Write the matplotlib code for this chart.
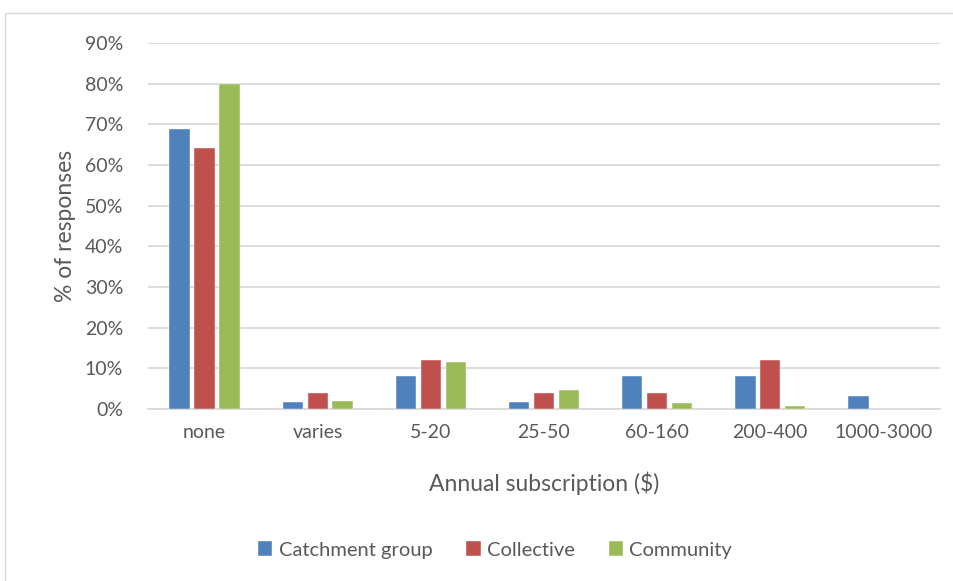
import numpy as np
import matplotlib.pyplot as plt
from matplotlib.patches import Rectangle

plt.rcParams['font.family'] = ['Lato', 'DejaVu Sans']

categories = ['none', 'varies', '5-20', '25-50', '60-160', '200-400', '1000-3000']
catchment = [68.9, 1.6, 8.2, 1.6, 8.2, 8.2, 3.3]
collective = [64.2, 3.9, 12.0, 3.9, 3.9, 12.0, 0]
community = [79.8, 2.0, 11.5, 4.7, 1.4, 0.7, 0]
series = ['Catchment group', 'Collective', 'Community']
colors = ['#4F81BD', '#C0504D', '#9BBB59']
text_col = '#595959'

fig = plt.figure(figsize=(9.54, 5.81), dpi=100)
ax = fig.add_axes([148 / 954, 172 / 581, 792 / 954, 366 / 581])

# chart border
fig.patches.append(Rectangle((5 / 954, -0.01), 1.0, (581 - 13) / 581 + 0.01,
                             transform=fig.transFigure, fill=False,
                             edgecolor='#D9D9D9', linewidth=1))

x = np.arange(len(categories))
w = 0.18
step = 0.22
for i, (vals, name, c) in enumerate(zip([catchment, collective, community], series, colors)):
    ax.bar(x + (i - 1) * step, vals, w, color=c, label=name, zorder=3,
           edgecolor='white', linewidth=0.3)

ax.set_xlim(-0.5, len(categories) - 0.5)
ax.set_ylim(0, 90)
ax.set_yticks(np.arange(0, 91, 10))
ax.set_yticklabels([f'{v}%' for v in range(0, 91, 10)])
ax.set_xticks(x)
ax.set_xticklabels(categories)
ax.grid(axis='y', color='#D9D9D9', linewidth=1.3, zorder=0)
for s in ['top', 'right', 'left']:
    ax.spines[s].set_visible(False)
ax.spines['bottom'].set_color('#D9D9D9')
ax.spines['bottom'].set_linewidth(1.3)
ax.tick_params(length=0, labelsize=14, colors=text_col, pad=11)
ax.tick_params(axis='y', pad=18)

ax.set_xlabel('Annual subscription ($)', fontsize=16.5, color=text_col, labelpad=22)
ax.set_ylabel('% of responses', fontsize=16.5, color=text_col, labelpad=6)

fig.legend(loc='center', bbox_to_anchor=(495 / 954, 1 - 550 / 581), ncol=3,
           frameon=False, fontsize=14.5, labelcolor=text_col, handlelength=0.7,
           handleheight=0.7, handletextpad=0.3, columnspacing=1.7)

fig.savefig('out.png', dpi=100)
